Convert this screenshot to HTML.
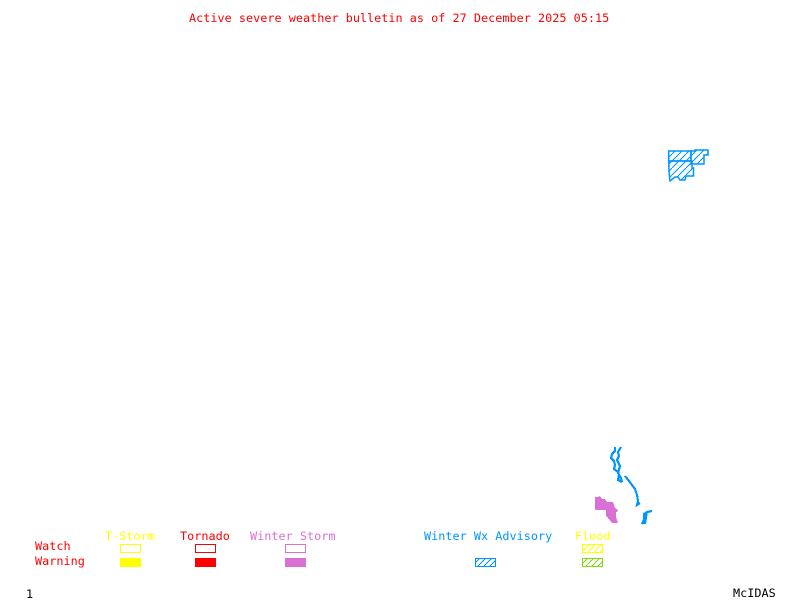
<!DOCTYPE html>
<html>
<head>
<meta charset="utf-8">
<style>
html,body{margin:0;padding:0;background:#fff;width:800px;height:600px;overflow:hidden}
svg{display:block}
text{font-family:"DejaVu Sans Mono","Liberation Mono",monospace;font-size:11.8px;letter-spacing:0.02px;white-space:pre}
.c{shape-rendering:crispEdges}
</style>
</head>
<body>
<svg width="800" height="600" viewBox="0 0 800 600" xmlns="http://www.w3.org/2000/svg">
<defs>
<pattern id="hb" width="7" height="7" patternUnits="userSpaceOnUse"><path d="M0 7L7 0" stroke="#0096ff" stroke-width="1.2" fill="none" shape-rendering="crispEdges"/></pattern>
<pattern id="hy" width="6" height="6" patternUnits="userSpaceOnUse"><path d="M0 6L6 0" stroke="#ffff00" stroke-width="1.2" fill="none" shape-rendering="crispEdges"/></pattern>
<pattern id="hg" width="6" height="6" patternUnits="userSpaceOnUse"><path d="M0 6L6 0" stroke="#7fdc10" stroke-width="1.2" fill="none" shape-rendering="crispEdges"/></pattern>
<pattern id="hs" width="6" height="6" patternUnits="userSpaceOnUse"><path d="M0 6L6 0" stroke="#0096ff" stroke-width="1.2" fill="none" shape-rendering="crispEdges"/></pattern>
</defs>

<text x="189" y="22" fill="#ff0000">Active severe weather bulletin as of 27 December 2025 05:15</text>

<!-- Upper right advisory area -->
<g fill="url(#hb)" stroke="#0096ff" stroke-width="1.5">
<path d="M668.7 151H691V161H668.7Z"/>
<path d="M691 151H695V150H708V155H704V164H691Z"/>
<path d="M668.7 161H692V168H693.5V176H686L685 180H680L678 177H675L670 181L669 172Z"/>
</g>

<!-- Lower right outlines -->
<g class="c" fill="none" stroke="#0096ff" stroke-width="2.2">
<path d="M615 447V451L612 454L611 458L614 461L615 465L614 469L618 472L619 475L618 480L622 482"/>
<path d="M621 447L618 452L619 456L617 460L620 466L618 473L621 478L622 482"/>
<path d="M625 476L629 481L632 485L635 489L637 495L638 501L637 505L640 503"/>
<path d="M652 511L647 512L644 515L645 520L642 524"/>
</g>
<path class="c" fill="#0096ff" d="M643 513L648 511L647 518L646 524L641 524L643 519Z"/>

<!-- Pink warning area -->
<path class="c" fill="#da70d6" d="M595 497H598L600 496L602 499H605L607 502H613L615 508L618 510L617 512L616 512V517L618 523H612L608 518L606 516V510H595Z"/>

<!-- Legend -->
<text x="105" y="540" fill="#ffff00">T-Storm</text>
<text x="180" y="540" fill="#ff0000">Tornado</text>
<text x="250" y="540" fill="#da70d6">Winter Storm</text>
<text x="424" y="540" fill="#0096ff">Winter Wx Advisory</text>
<text x="575" y="540" fill="#ffff00">Flood</text>
<text x="35" y="550" fill="#ff0000">Watch</text>
<text x="35" y="565" fill="#ff0000">Warning</text>

<g class="c" fill="none" stroke-width="1">
<rect x="120.5" y="544.5" width="20" height="8" stroke="#ffff00"/>
<rect x="195.5" y="544.5" width="20" height="8" stroke="#ff0000"/>
<rect x="285.5" y="544.5" width="20" height="8" stroke="#da70d6"/>
</g>
<rect x="120" y="558" width="21" height="9" fill="#ffff00"/>
<rect x="195" y="558" width="21" height="9" fill="#ff0000"/>
<rect x="285" y="558" width="21" height="9" fill="#da70d6"/>
<rect class="c" x="475.5" y="558.5" width="20" height="8" fill="url(#hs)" stroke="#0096ff"/>
<rect class="c" x="582.5" y="544.5" width="20" height="8" fill="url(#hy)" stroke="#ffff00"/>
<rect class="c" x="582.5" y="558.5" width="20" height="8" fill="url(#hg)" stroke="#7fdc10"/>

<text x="26" y="598" fill="#000000">1</text>
<text x="733" y="597" fill="#000000">McIDAS</text>
</svg>
</body>
</html>
